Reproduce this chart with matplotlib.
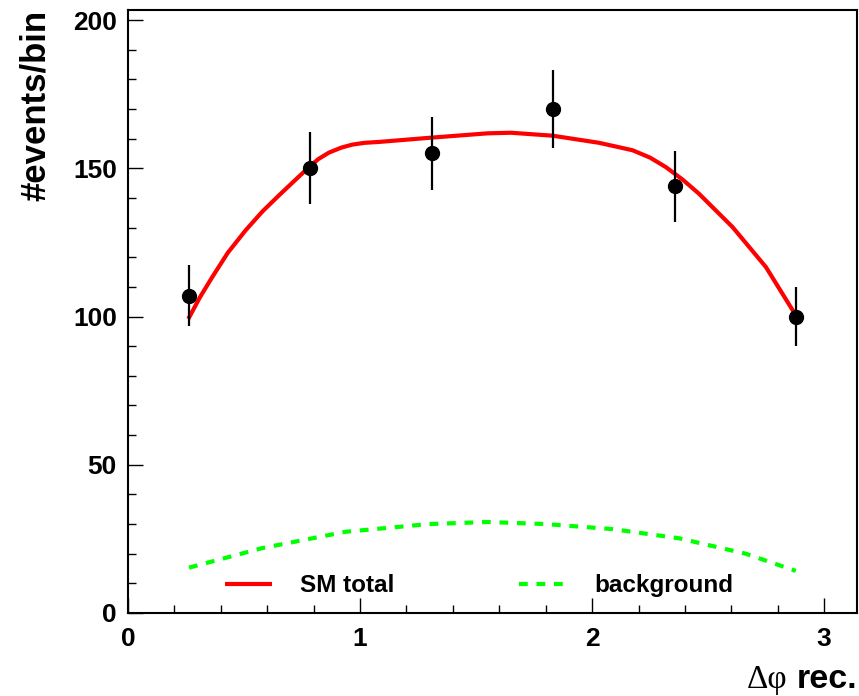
"""Delta-phi distribution: data points with SM total and background curves."""

import matplotlib

matplotlib.use("Agg")
import matplotlib.pyplot as plt
from matplotlib.ticker import MultipleLocator

# data points (bin centres in rad)
bin_x = [0.2618, 0.7854, 1.3090, 1.8326, 2.3562, 2.8798]
counts = [107, 150, 155, 170, 144, 100]
count_err = [10.3, 12.2, 12.4, 13.0, 12.0, 10.0]

# SM total curve
sm_x = [0.26, 0.31, 0.363, 0.43, 0.507, 0.58, 0.651, 0.72, 0.78, 0.82, 0.866, 0.92, 0.967,
        1.02, 1.082, 1.3, 1.55, 1.65, 1.83, 2.03, 2.174, 2.25, 2.318, 2.39, 2.461, 2.605,
        2.749, 2.878]
sm_y = [99.2, 106.5, 113.3, 121.5, 129.1, 135.5, 140.9, 146.0, 150.4, 153.1, 155.3, 157.0, 158.0,
        158.6, 158.9, 160.3, 161.8, 162.0, 161.0, 158.6, 156.1, 153.6, 150.4, 146.2, 141.4, 130.2,
        116.7, 100.4]

# background curve
bkg_x = [0.263, 0.579, 0.938, 1.297, 1.55, 1.80, 2.088, 2.375, 2.662, 2.878]
bkg_y = [15.3, 21.9, 27.4, 30.0, 30.7, 30.0, 28.3, 25.2, 20.0, 14.2]

FONT = "Liberation Sans"


def main():
    fig = plt.figure(figsize=(8.59, 6.96), dpi=100)
    ax = fig.add_axes([128 / 859, 83 / 696, 729 / 859, 603 / 696])

    ax.plot(sm_x, sm_y, color="#ff0000", lw=3, solid_capstyle="butt", label="SM total", zorder=3)
    ax.plot(bkg_x, bkg_y, color="#00ff00", lw=3, dashes=(2.1, 2.1), label="background", zorder=3)
    ax.errorbar(bin_x, counts, yerr=count_err, fmt="o", color="black", ms=10,
                elinewidth=1.6, capsize=0, zorder=4)

    ax.set_xlim(0, 3.1416)
    ax.set_ylim(0, 203.4)

    ax.xaxis.set_major_locator(MultipleLocator(1))
    ax.xaxis.set_minor_locator(MultipleLocator(0.2))
    ax.yaxis.set_major_locator(MultipleLocator(50))
    ax.yaxis.set_minor_locator(MultipleLocator(10))
    ax.tick_params(which="both", direction="in", top=False, right=False, width=1.0)
    ax.tick_params(which="major", length=10.5)
    ax.tick_params(which="minor", length=5.5)
    ax.tick_params(axis="y", which="major", pad=8)
    ax.tick_params(axis="x", which="major", pad=10)
    for lab in ax.get_xticklabels() + ax.get_yticklabels():
        lab.set_fontfamily(FONT)
        lab.set_fontweight("bold")
        lab.set_fontsize(19)
    for sp in ax.spines.values():
        sp.set_linewidth(1.5)

    ax.legend(loc="center left", bbox_to_anchor=(0.133, 0.045), ncol=2, frameon=False,
              borderpad=0, borderaxespad=0, handlelength=1.95, handletextpad=1.15,
              columnspacing=5.1, prop={"family": FONT, "weight": "bold", "size": 17.5})

    # axis titles, ROOT style (aligned to the axis end)
    fig.text(35 / 859, 1 - 10 / 696, "#events/bin", rotation=90, ha="center", va="top",
             fontfamily=FONT, fontweight="bold", fontsize=25)
    rec = fig.text(857 / 859, 1 - 680 / 696, "rec.", ha="right", va="center",
                   fontfamily=FONT, fontweight="bold", fontsize=24.5)
    fig.canvas.draw()
    bb = rec.get_window_extent()
    fig.text((bb.x0 - 9) / 859, 1 - 680 / 696, "Δφ", ha="right", va="center",
             fontfamily="Liberation Serif", fontsize=24)

    fig.savefig("out.png", dpi=100)
    plt.close(fig)


if __name__ == "__main__":
    main()
